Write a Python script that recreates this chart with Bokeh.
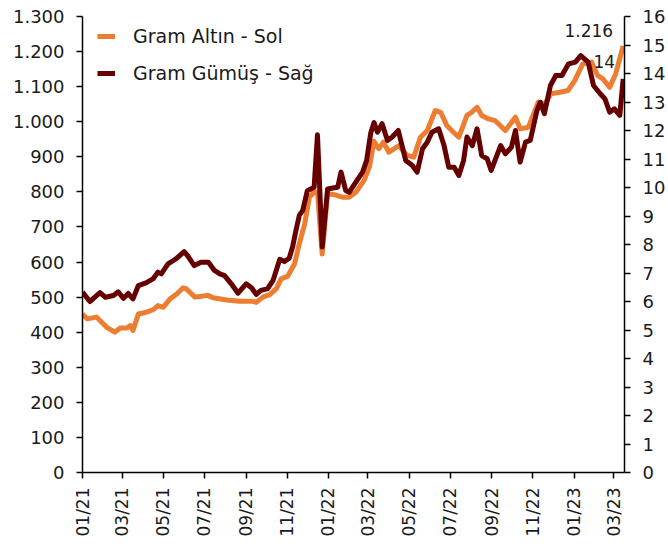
import pandas as pd
from bokeh.plotting import figure
from bokeh.models import LinearAxis, Range1d, FixedTicker, DatetimeTickFormatter, Legend, LegendItem, ColumnDataSource
from bokeh.embed import file_html
from bokeh.resources import INLINE
from bokeh.core.properties import value

# ---------------- data ----------------
gold_dates = ["2021-01-01","2021-01-08","2021-01-22","2021-01-27","2021-02-06","2021-02-18","2021-02-26","2021-03-08","2021-03-13","2021-03-17",
              "2021-03-25","2021-04-06","2021-04-16","2021-04-23","2021-05-01","2021-05-11","2021-05-21","2021-05-30","2021-06-04","2021-06-17",
              "2021-06-24","2021-07-06","2021-07-14","2021-08-03","2021-08-22","2021-09-11","2021-09-16","2021-09-26","2021-10-06","2021-10-16",
              "2021-10-23","2021-11-02","2021-11-12","2021-11-19","2021-11-27","2021-12-04","2021-12-11","2021-12-16","2021-12-23","2021-12-31",
              "2022-01-10","2022-01-22","2022-02-01","2022-02-11","2022-02-23","2022-03-03","2022-03-10","2022-03-17","2022-03-24","2022-04-01",
              "2022-04-16","2022-04-28","2022-05-08","2022-05-18","2022-05-28","2022-06-09","2022-06-17","2022-06-26","2022-07-06","2022-07-14",
              "2022-07-26","2022-08-02","2022-08-10","2022-08-17","2022-08-27","2022-09-06","2022-09-21","2022-10-06","2022-10-13","2022-10-25",
              "2022-11-09","2022-11-19","2022-11-28","2022-12-11","2022-12-23",
              "2023-01-02","2023-01-14","2023-01-27","2023-02-05","2023-02-13","2023-02-23","2023-03-04","2023-03-15"]
gold_values = [452,438,443,433,414,400,412,412,419,405,
               452,457,464,476,471,495,509,526,524,500,
               502,505,498,492,488,488,485,500,507,524,
               552,560,595,652,709,785,799,800,623,795,
               792,785,785,799,832,870,944,923,942,913,
               932,904,899,956,975,1032,1027,989,970,956,
               1018,1027,1041,1018,1008,1003,975,1013,980,984,
               1056,1051,1080,1084,1089,
               1117,1165,1170,1132,1122,1098,1137,1216]

silver_dates = ["2021-01-01","2021-01-12","2021-01-27","2021-02-04","2021-02-16","2021-02-23","2021-03-03","2021-03-10","2021-03-17","2021-03-25",
                "2021-04-06","2021-04-16","2021-04-23","2021-04-28","2021-05-08","2021-05-20","2021-06-01","2021-06-06","2021-06-16","2021-06-26",
                "2021-07-07","2021-07-16","2021-07-24","2021-07-31","2021-08-10","2021-08-20","2021-09-01","2021-09-09","2021-09-16","2021-09-23",
                "2021-10-03","2021-10-11","2021-10-21","2021-10-28","2021-11-04","2021-11-09","2021-11-14","2021-11-19","2021-11-24","2021-12-01",
                "2021-12-06","2021-12-11","2021-12-16","2021-12-23","2021-12-31",
                "2022-01-10","2022-01-15","2022-01-20","2022-01-27","2022-02-01","2022-02-11","2022-02-21","2022-02-27","2022-03-05","2022-03-10",
                "2022-03-15","2022-03-22","2022-03-30","2022-04-06","2022-04-15","2022-04-26","2022-05-06","2022-05-13","2022-05-21","2022-05-28",
                "2022-06-04","2022-06-14","2022-06-22","2022-06-29","2022-07-07","2022-07-14","2022-07-21","2022-07-26","2022-08-03","2022-08-10",
                "2022-08-17","2022-08-25","2022-08-31","2022-09-14","2022-09-21","2022-09-30","2022-10-06","2022-10-13","2022-10-21","2022-10-28",
                "2022-11-07","2022-11-12","2022-11-18","2022-11-27","2022-12-05","2022-12-14","2022-12-24",
                "2023-01-03","2023-01-11","2023-01-22","2023-01-30","2023-02-09","2023-02-16","2023-02-23","2023-03-02","2023-03-10","2023-03-15"]
silver_values = [6.33,6.00,6.31,6.15,6.21,6.34,6.11,6.28,6.09,6.56,
                 6.66,6.80,7.03,6.97,7.32,7.50,7.75,7.61,7.26,7.38,
                 7.38,7.09,6.97,6.91,6.62,6.29,6.62,6.48,6.25,6.39,
                 6.45,6.74,7.48,7.40,7.52,7.91,8.49,9.02,9.19,9.89,
                 9.95,10.01,11.85,7.91,9.95,
                 9.99,10.01,10.54,9.89,9.83,10.19,10.54,10.95,11.90,12.28,
                 11.94,12.24,11.65,11.77,12.00,10.95,10.77,10.54,11.36,11.59,
                 11.94,12.06,11.47,10.71,10.71,10.42,10.95,11.77,11.47,12.06,
                 11.12,11.01,10.60,11.47,11.18,11.41,12.00,10.89,11.59,11.65,
                 12.70,12.99,12.59,13.58,13.93,13.93,14.34,
                 14.40,14.63,14.40,13.58,13.29,13.11,12.64,12.76,12.53,13.81]

series_names = ["Gram Altın - Sol", "Gram Gümüş - Sağ"]
tick_months = ["2021-01-01","2021-03-01","2021-05-01","2021-07-01","2021-09-01","2021-11-01",
               "2022-01-01","2022-03-01","2022-05-01","2022-07-01","2022-09-01","2022-11-01",
               "2023-01-01","2023-03-01"]
left_ticks = list(range(0, 1301, 100))
right_ticks = list(range(0, 17, 1))
gold_label = "1.216"
silver_label = "14"

# ---------------- styling ----------------
ORANGE = "#ED7D31"
DARKRED = "#660000"
TXT = "#1A1A1A"
FONT = "DejaVu Sans"

gsrc = ColumnDataSource(dict(x=pd.to_datetime(gold_dates), y=gold_values))
ssrc = ColumnDataSource(dict(x=pd.to_datetime(silver_dates), y=silver_values))

p = figure(width=668, height=549, x_axis_type="datetime",
           x_range=Range1d(pd.Timestamp("2021-01-01"), pd.Timestamp("2023-03-17")),
           y_range=Range1d(0, 1300),
           output_backend="svg", toolbar_location=None,
           min_border_left=82, min_border_right=42, min_border_top=16, min_border_bottom=77)
p.extra_y_ranges = {"right": Range1d(0, 16)}
p.outline_line_color = None
p.xgrid.visible = False
p.ygrid.visible = False
p.background_fill_color = "white"
p.border_fill_color = "white"

g = p.line("x", "y", source=gsrc, line_color=ORANGE, line_width=5, line_join="round")
s = p.line("x", "y", source=ssrc, line_color=DARKRED, line_width=5, line_join="round",
           y_range_name="right")

right_axis = LinearAxis(y_range_name="right")
p.add_layout(right_axis, "right")

# x axis
xa = p.xaxis[0]
xa.ticker = FixedTicker(ticks=[pd.Timestamp(t).value / 1e6 for t in tick_months])
fmt = "%m/%y"
xa.formatter = DatetimeTickFormatter(days=fmt, months=fmt, years=fmt, hours=fmt, minutes=fmt,
                                     seconds=fmt, milliseconds=fmt, microseconds=fmt, hourmin=fmt, minsec=fmt)
xa.major_label_orientation = 3.14159265 / 2
xa.major_label_text_font_size = "17px"
xa.major_label_standoff = 9

# left axis
ya = p.yaxis[0]
ya.ticker = FixedTicker(ticks=left_ticks)
ya.major_label_overrides = {v: f"{v:,}".replace(",", ".") for v in left_ticks}
ya.major_label_text_font_size = "18px"
ya.major_label_standoff = 12

right_axis.ticker = FixedTicker(ticks=right_ticks)
right_axis.major_label_text_font_size = "18px"
right_axis.major_label_standoff = 12

for ax in (xa, ya, right_axis):
    ax.axis_line_color = "black"
    ax.axis_line_width = 1.5
    ax.major_tick_line_color = "black"
    ax.major_tick_line_width = 1.5
    ax.major_tick_out = 6
    ax.major_tick_in = 0
    ax.minor_tick_line_color = None
    ax.major_label_text_font = FONT
    ax.major_label_text_color = TXT

# end labels
p.text(x=[gsrc.data["x"][-1]], y=[gold_values[-1]], text=[gold_label],
       text_font=value(FONT), text_font_size="17px", text_color=TXT,
       text_align="right", text_baseline="alphabetic", x_offset=-10, y_offset=-15)
p.text(x=[ssrc.data["x"][-1]], y=[silver_values[-1]], text=[silver_label], y_range_name="right",
       text_font=value(FONT), text_font_size="17px", text_color=TXT,
       text_align="right", text_baseline="alphabetic", x_offset=-8, y_offset=-17)

legend = Legend(items=[LegendItem(label=series_names[0], renderers=[g]),
                       LegendItem(label=series_names[1], renderers=[s])],
                location=(15, 384), margin=0, padding=0, spacing=7,
                glyph_width=18, glyph_height=30, label_height=30, label_standoff=18,
                label_text_font=FONT, label_text_font_size="19px", label_text_color=TXT,
                border_line_color=None, background_fill_alpha=0)
p.add_layout(legend, "center")

open("out.html", "w").write(file_html(p, INLINE))
